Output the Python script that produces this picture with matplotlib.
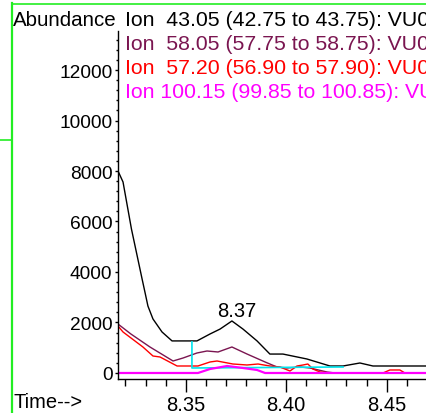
import matplotlib
matplotlib.use('Agg')
import matplotlib.pyplot as plt
from matplotlib.ticker import MultipleLocator, FixedLocator
from matplotlib.lines import Line2D

plt.rcParams['font.family'] = ['Liberation Sans', 'DejaVu Sans']

# ---------------- data ----------------
ion_labels = [
    "Ion  43.05 (42.75 to 43.75): VU0",
    "Ion  58.05 (57.75 to 58.75): VU0",
    "Ion  57.20 (56.90 to 57.90): VU0",
    "Ion 100.15 (99.85 to 100.85): VU0",
]
ion_colors = ['#000000', '#7a1550', '#ff0000', '#ff00ff']

black_t = [8.3163, 8.3188, 8.3230, 8.3283, 8.3298, 8.3312, 8.3337, 8.3382, 8.3432, 8.3556, 8.3621,
           8.3671, 8.3730, 8.3785, 8.3855, 8.3919, 8.3984, 8.4103, 8.4218, 8.4283,
           8.4367, 8.4432, 8.4696]
black_v = [8000, 7565, 5700, 3720, 3170, 2650, 2140, 1625, 1270, 1270, 1545,
           1740, 2060, 1740, 1270, 750, 750, 555, 277, 277,
           396, 277, 277]

purple_t = [8.3163, 8.3227, 8.3322, 8.3437, 8.3487, 8.3556, 8.3606, 8.3661, 8.3730,
            8.3805, 8.3895, 8.3954, 8.4004, 8.4069, 8.4118, 8.4203, 8.4243, 8.4696]
purple_v = [1940, 1545, 1030, 475, 594, 792, 871, 832, 1030,
            752, 436, 238, 198, 238, 198, 40, 0, 0]

red_t = [8.3163, 8.3188, 8.3287, 8.3337, 8.3372, 8.3457, 8.3561, 8.3621, 8.3656,
         8.3735, 8.3805, 8.3860, 8.3919, 8.3969, 8.4019, 8.4054, 8.4084, 8.4108,
         8.4133, 8.4168, 8.4218, 8.4482, 8.4516, 8.4566, 8.4591, 8.4696]
red_v = [1860, 1624, 1030, 673, 634, 277, 277, 436, 475,
         356, 317, 356, 277, 238, 79, 277, 317, 356,
         158, 40, 0, 0, 119, 119, 0, 0]

magenta_t = [8.3163, 8.3561, 8.3621, 8.3706, 8.3785, 8.3855, 8.3895, 8.4696]
magenta_v = [0, 0, 158, 277, 198, 119, 0, 0]

cyan_t = [8.3531, 8.3531, 8.4283]
cyan_v = [1230, 198, 238]

peak_label = "8.37"
peak_t, peak_v = 8.3730, 2060

y_ticks = [0, 2000, 4000, 6000, 8000, 10000, 12000]
x_ticks = [8.35, 8.40, 8.45]
x_tick_labels = ["8.35", "8.40", "8.45"]

# ---------------- figure ----------------
W, H = 426, 414
fig = plt.figure(figsize=(W / 100, H / 100), dpi=100)

def fx(px):
    return px / W

def fy(py):
    return 1 - py / H

ax = fig.add_axes([fx(118), fy(380), fx(426) - fx(118), fy(32) - fy(380)])
ax.set_xlim(8.3163, 8.4696)
ax.set_ylim(-238, 13545)

ax.plot(black_t, black_v, color=ion_colors[0], lw=1.0)
ax.plot(purple_t, purple_v, color=ion_colors[1], lw=1.0)
ax.plot(red_t, red_v, color=ion_colors[2], lw=1.0)
ax.plot(cyan_t, cyan_v, color='#00e5ee', lw=1.2)
ax.plot(magenta_t, magenta_v, color=ion_colors[3], lw=1.6)

ax.annotate(peak_label, (peak_t, peak_v), xytext=(3.6, 7.5), textcoords='offset points',
            ha='center', va='center', fontsize=14.5)

for s in ['top', 'right']:
    ax.spines[s].set_visible(False)
for s in ['left', 'bottom']:
    ax.spines[s].set_linewidth(1.0)

ax.yaxis.set_major_locator(FixedLocator(y_ticks))
ax.yaxis.set_minor_locator(MultipleLocator(400))
ax.set_yticklabels([str(v) for v in y_ticks])
ax.xaxis.set_major_locator(FixedLocator(x_ticks))
ax.xaxis.set_minor_locator(MultipleLocator(0.01))
ax.set_xticklabels(x_tick_labels)

ax.tick_params(axis='y', which='major', length=2.5, width=1, pad=1.5, labelsize=13.8)
ax.tick_params(axis='y', which='minor', length=1.5, width=1)
ax.tick_params(axis='x', which='major', length=9.5, width=1, pad=2, labelsize=14.5)
ax.tick_params(axis='x', which='minor', length=5, width=1)

# header texts
fig.text(fx(13), fy(20), "Abundance", fontsize=14.8, ha='left', va='center')
line_y = [20, 44, 69, 92]
for lab, col, yy in zip(ion_labels, ion_colors, line_y):
    fig.text(fx(125), fy(yy), lab, fontsize=15.3, color=col, ha='left', va='center')

fig.text(fx(13), fy(403), "Time-->", fontsize=14.5, ha='left', va='center')

# green frame
green = '#22ee22'
fig.add_artist(Line2D([fx(12), fx(12)], [fy(4), fy(414)], color=green, lw=1.6))
fig.add_artist(Line2D([fx(12), fx(426)], [fy(4.5), fy(4.5)], color=green, lw=1.2))
fig.add_artist(Line2D([fx(0), fx(12)], [fy(140.5), fy(140.5)], color=green, lw=1.2))

fig.savefig('out.png', dpi=100)
